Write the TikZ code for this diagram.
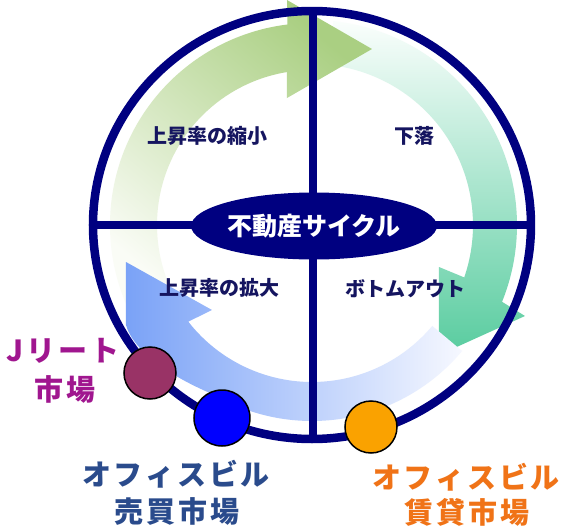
\documentclass[tikz,border=0pt]{standalone}
\usepackage{fontspec}
\newfontfamily\jp{Noto Sans CJK JP}
\newfontfamily\jpwide{Noto Sans CJK JP}[LetterSpace=10]
\usetikzlibrary{shapes.geometric}
\definecolor{navy}{HTML}{000080}
\definecolor{labnavy}{HTML}{151560}
\definecolor{greenstrong}{HTML}{AACF82}
\definecolor{greenmid}{HTML}{E6EFD8}
\definecolor{greenfaint}{HTML}{FAFCF6}
\definecolor{tealstrong}{HTML}{58CC9F}
\definecolor{tealmid}{HTML}{B4E8D5}
\definecolor{tealfaint}{HTML}{FAFEFC}
\definecolor{bluestrong}{HTML}{7AA2F7}
\definecolor{bluemid}{HTML}{BFD2FA}
\definecolor{bluefaint}{HTML}{F6F8FF}
\definecolor{jreit}{HTML}{A0168F}
\definecolor{dotmaroon}{HTML}{993366}
\definecolor{dotblue}{HTML}{0000FF}
\definecolor{dotorange}{HTML}{FAA200}
\definecolor{salecol}{HTML}{2A4B8C}
\definecolor{rentcol}{HTML}{F07317}
\tikzset{
  ring/.style={draw=navy, line width=8.5pt},
  crossline/.style={draw=navy, line width=7.5pt},
  quadlabel/.style={text=labnavy, font=\jp\bfseries\fontsize{20}{22}\selectfont, inner sep=0pt},
  outlabel/.style={font=\jpwide\bfseries\fontsize{29}{33}\selectfont, inner sep=0pt},
  marketdot/.style={circle, draw=black, line width=1.5pt, inner sep=0pt},
}
\begin{document}
\begin{tikzpicture}[x=1pt,y=1pt]
\useasboundingbox (-312,225) rectangle (254,-306);
\fill[white] (-312,225) rectangle (254,-306);
% teal arrow (right side, downward)
\shade[top color=tealfaint, middle color=tealmid, bottom color=tealstrong]
  (84:161) arc[start angle=84, end angle=-19, radius=161]
  -- (127,-42) -- (127,-130) -- (213,-91)
  -- (-22:205) arc[start angle=-22, end angle=84, radius=205] -- cycle;
% green arrow (left side, upward)
\shade[bottom color=greenfaint, middle color=greenmid, top color=greenstrong, shading angle=-40]
  (205:202) arc[start angle=205, end angle=97, radius=202]
  -- (-25,225) -- (60,176) -- (-25,127)
  -- (99.3:155) arc[start angle=99.3, end angle=205, radius=155] -- cycle;
% blue arrow (bottom, leftward/upward)
\shade[left color=bluestrong, middle color=bluemid, right color=bluefaint]
  (-186,-37) -- (-100,-85) -- (218:157)
  arc[start angle=218, end angle=320, radius=157]
  -- (320:196) arc[start angle=320, end angle=240, radius=196]
  .. controls (-150,-148) and (-180,-122) .. (-186,-100) -- cycle;
% ring and cross
\draw[ring] (0,0) ellipse[x radius=219, y radius=214];
\coordinate (top) at (1,214);
\coordinate (bot) at (1,-214);
\coordinate (lft) at (-219,0);
\coordinate (rgt) at (219,0);
\draw[crossline] (top) -- (bot);
\draw[crossline] (lft) -- (rgt);
\node[ellipse, fill=navy, minimum width=198pt, minimum height=67pt, inner sep=0pt,
      text=white, font=\jp\bfseries\fontsize{25}{27}\selectfont] (cycle) at (2,-1) {不動産サイクル};
% quadrant labels
\node[quadlabel] (shrink) at (-104,89) {上昇率の縮小};
\node[quadlabel] (fall) at (103,89) {下落};
\node[quadlabel] (expand) at (-92,-63) {上昇率の拡大};
\node[quadlabel] (bottomout) at (94,-64) {ボトムアウト};
% market dots
\node[marketdot, fill=dotmaroon, minimum size=52pt] (jdot) at (-162,-148) {};
\node[marketdot, fill=dotblue, minimum size=56pt] (sdot) at (-90,-193) {};
\node[marketdot, fill=dotorange, minimum size=52pt] (rdot) at (59,-202) {};
% outer labels
\node[outlabel, text=jreit] (j1) at (-249,-126) {Jリート};
\node[outlabel, text=jreit] (j2) at (-247,-164) {市場};
\node[outlabel, text=salecol] (s1) at (-136,-249) {オフィスビル};
\node[outlabel, text=salecol] (s2) at (-135,-286) {売買市場};
\node[outlabel, text=rentcol] (r1) at (154,-252) {オフィスビル};
\node[outlabel, text=rentcol] (r2) at (155,-287) {賃貸市場};
\end{tikzpicture}
\end{document}
